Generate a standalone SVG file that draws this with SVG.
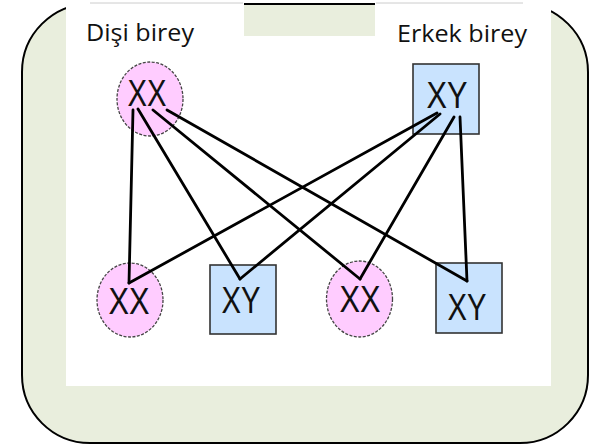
<svg xmlns="http://www.w3.org/2000/svg" width="591" height="444" viewBox="0 0 591 444">
  <style>
    .lbl { font-family: "Open Sans", "Liberation Sans", sans-serif; font-size: 23px; fill: #111; }
    .gt { font-family: "Liberation Sans", Arial, sans-serif; font-size: 36px; fill: #111; text-anchor: middle; }
    .fem { fill: #ffccff; stroke: #444; stroke-width: 1.3; stroke-dasharray: 3 1.5; }
    .mal { fill: #c9e3fe; stroke: #333; stroke-width: 1.6; }
    .conn line { stroke: #000; stroke-width: 2.8; stroke-linecap: round; }
  </style>
  <rect width="591" height="444" fill="#ffffff"/>
  <g id="frame">
    <rect x="22" y="4" width="566" height="439" rx="68" ry="68" fill="#e9eedd" stroke="#000" stroke-width="2"/>
    <path d="M66,0 H244 V36 H375 V0 H551 V386 H66 Z" fill="#ffffff"/>
    <line x1="90" y1="3" x2="243" y2="3" stroke="#cccccc" stroke-width="1"/>
    <line x1="376" y1="3" x2="523" y2="3" stroke="#cccccc" stroke-width="1"/>
  </g>
  <g id="labels">
    <text class="lbl" x="86" y="41" textLength="108" lengthAdjust="spacingAndGlyphs">Dişi birey</text>
    <text class="lbl" x="397" y="42" textLength="130" lengthAdjust="spacingAndGlyphs">Erkek birey</text>
  </g>
  <g id="female-parent">
    <ellipse class="fem" cx="150" cy="99" rx="33" ry="37"/>
    <text class="gt" x="147" y="106" textLength="39" lengthAdjust="spacingAndGlyphs">XX</text>
  </g>
  <g id="male-parent">
    <rect class="mal" x="413" y="64" width="66" height="70"/>
    <text class="gt" x="447" y="108" textLength="41" lengthAdjust="spacingAndGlyphs">XY</text>
  </g>
  <g id="child-1">
    <ellipse class="fem" cx="130" cy="300" rx="33" ry="37"/>
    <text class="gt" x="129" y="314" textLength="41" lengthAdjust="spacingAndGlyphs">XX</text>
  </g>
  <g id="child-2">
    <rect class="mal" x="210" y="265" width="66" height="69"/>
    <text class="gt" x="241" y="313" textLength="39" lengthAdjust="spacingAndGlyphs">XY</text>
  </g>
  <g id="child-3">
    <ellipse class="fem" cx="359.5" cy="299" rx="33" ry="38"/>
    <text class="gt" x="360" y="312" textLength="41" lengthAdjust="spacingAndGlyphs">XX</text>
  </g>
  <g id="child-4">
    <rect class="mal" x="436" y="263" width="66" height="70"/>
    <text class="gt" x="467" y="320" textLength="39" lengthAdjust="spacingAndGlyphs">XY</text>
  </g>
  <g id="connectors" class="conn">
    <line x1="133" y1="110" x2="129" y2="283"/>
    <line x1="138" y1="109" x2="240" y2="279"/>
    <line x1="153" y1="110" x2="360" y2="279"/>
    <line x1="167" y1="110" x2="467" y2="281"/>
    <line x1="437" y1="113" x2="129" y2="283"/>
    <line x1="440" y1="114" x2="240" y2="279"/>
    <line x1="454" y1="117" x2="360" y2="279"/>
    <line x1="460" y1="117" x2="467" y2="281"/>
  </g>
</svg>
